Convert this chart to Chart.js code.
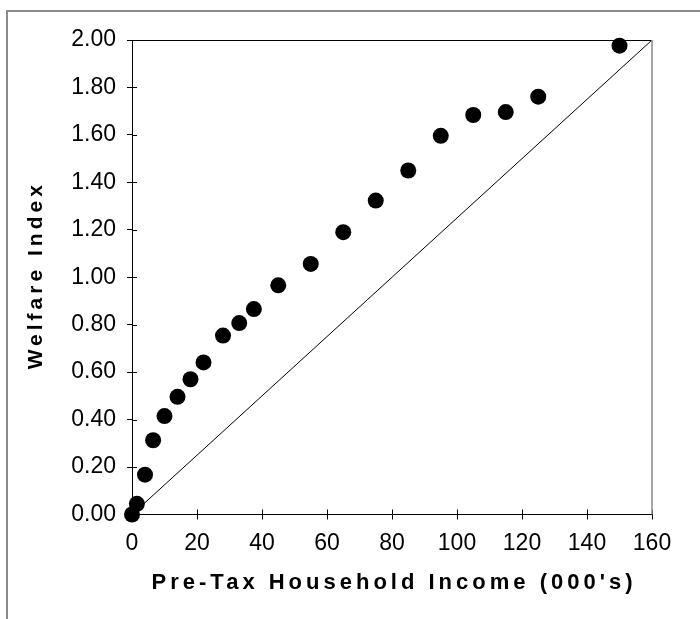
<!DOCTYPE html>
<html>
    <head>
        <meta charset="utf-8">
        <script src="https://cdn.jsdelivr.net/npm/chart.js"></script>
        <style>
            body {
                margin: 0;
                background-color: #ffffff;
            }
            #wrap {
                position: relative;
                width: 700px;
                height: 619px;
            }
            #frame {
                position: absolute;
                left: 6px;
                top: 10px;
                right: 0;
                bottom: 0;
                border-top: 2px solid #8a8a8a;
                border-left: 2px solid #8a8a8a;
                pointer-events: none;
            }
        </style>
    </head>
    <body>
        <div id="wrap">
            <canvas id="chart"></canvas>
            <div id="frame"></div>
        </div>

        <script>
            // values
            const incomeK = [0, 1.5, 4, 6.5, 10, 14, 18, 22, 28, 33, 37.5, 45, 55, 65, 75, 85, 95, 105, 115, 125, 150];
            const welfareIdx = [0, 0.045, 0.168, 0.313, 0.415, 0.496, 0.570, 0.641, 0.754, 0.807, 0.866, 0.966,
                                1.056, 1.190, 1.323, 1.450, 1.596, 1.684, 1.696, 1.761, 1.976];
            const equalityLine = [[0, 0], [160, 2]];

            const xTitle = "Pre-Tax Household Income (000's)";
            const yTitle = 'Welfare Index';

            const fontName = "'Liberation Sans', Arial, sans-serif";

            function noPadding(scale) {
                scale.paddingTop = 0;
                scale.paddingBottom = 0;
                scale.paddingLeft = 0;
                scale.paddingRight = 0;
            }

            // frame on top/right of plot, inner tick halves, axis titles with letter spacing
            const decorPlugin = {
                id: 'decor',
                afterDraw(chart) {
                    const ctx = chart.ctx;
                    const area = chart.chartArea;
                    const xs = chart.scales.x;
                    const ys = chart.scales.y;
                    ctx.save();

                    ctx.strokeStyle = '#000000';
                    ctx.lineWidth = 1;
                    ctx.beginPath();
                    ctx.moveTo(area.left, area.top + 0.5);
                    ctx.lineTo(area.right, area.top + 0.5);
                    xs.ticks.forEach(t => {
                        const px = Math.round(xs.getPixelForValue(t.value)) + 0.5;
                        ctx.moveTo(px, area.bottom);
                        ctx.lineTo(px, area.bottom - 5);
                    });
                    ys.ticks.forEach(t => {
                        const py = Math.round(ys.getPixelForValue(t.value)) + 0.5;
                        ctx.moveTo(area.left, py);
                        ctx.lineTo(area.left + 5, py);
                    });
                    ctx.stroke();

                    ctx.strokeStyle = '#8a8a8a';
                    ctx.lineWidth = 1.5;
                    ctx.beginPath();
                    ctx.moveTo(area.right, area.top);
                    ctx.lineTo(area.right, area.bottom);
                    ctx.stroke();

                    ctx.fillStyle = '#000000';
                    ctx.textAlign = 'center';
                    ctx.textBaseline = 'alphabetic';
                    ctx.letterSpacing = '4px';
                    ctx.font = 'bold 22px ' + fontName;
                    ctx.fillText(xTitle, (area.left + area.right) / 2 + 2, 589);

                    ctx.font = 'bold 21px ' + fontName;
                    ctx.translate(42, (area.top + area.bottom) / 2);
                    ctx.rotate(-Math.PI / 2);
                    ctx.fillText(yTitle, 2, 0);
                    ctx.restore();
                }
            };

            new Chart(document.getElementById('chart'), {
                type: 'scatter',
                data: {
                    datasets: [
                        {
                            label: 'Welfare Index',
                            data: incomeK.map((v, i) => ({ x: v, y: welfareIdx[i] })),
                            backgroundColor: '#000000',
                            borderWidth: 0,
                            pointRadius: 8,
                            pointHoverRadius: 8,
                            clip: false
                        },
                        {
                            type: 'line',
                            label: 'Equality',
                            data: equalityLine.map(p => ({ x: p[0], y: p[1] })),
                            borderColor: '#000000',
                            borderWidth: 1,
                            pointRadius: 0,
                            fill: false
                        }
                    ]
                },
                options: {
                    responsive: true,
                    maintainAspectRatio: false,
                    animation: false,
                    layout: { padding: { top: 40, right: 48, left: 0, bottom: 0 } },
                    plugins: {
                        legend: { display: false },
                        tooltip: { enabled: false }
                    },
                    scales: {
                        x: {
                            type: 'linear',
                            min: 0,
                            max: 160,
                            ticks: {
                                stepSize: 20,
                                padding: 10,
                                color: '#000000',
                                font: { family: fontName, size: 23 }
                            },
                            grid: { drawOnChartArea: false, tickLength: 5, color: '#000000' },
                            border: { color: '#000000', width: 1 },
                            afterFit(scale) {
                                scale.height = 104.5;
                                noPadding(scale);
                            }
                        },
                        y: {
                            min: 0,
                            max: 2,
                            ticks: {
                                stepSize: 0.2,
                                padding: 11,
                                color: '#000000',
                                font: { family: fontName, size: 23 },
                                callback: v => v.toFixed(2)
                            },
                            grid: { drawOnChartArea: false, tickLength: 5, color: '#000000' },
                            border: { color: '#000000', width: 1 },
                            afterFit(scale) {
                                scale.width = 132;
                                noPadding(scale);
                            }
                        }
                    }
                },
                plugins: [decorPlugin]
            });
        </script>
    </body>
</html>
